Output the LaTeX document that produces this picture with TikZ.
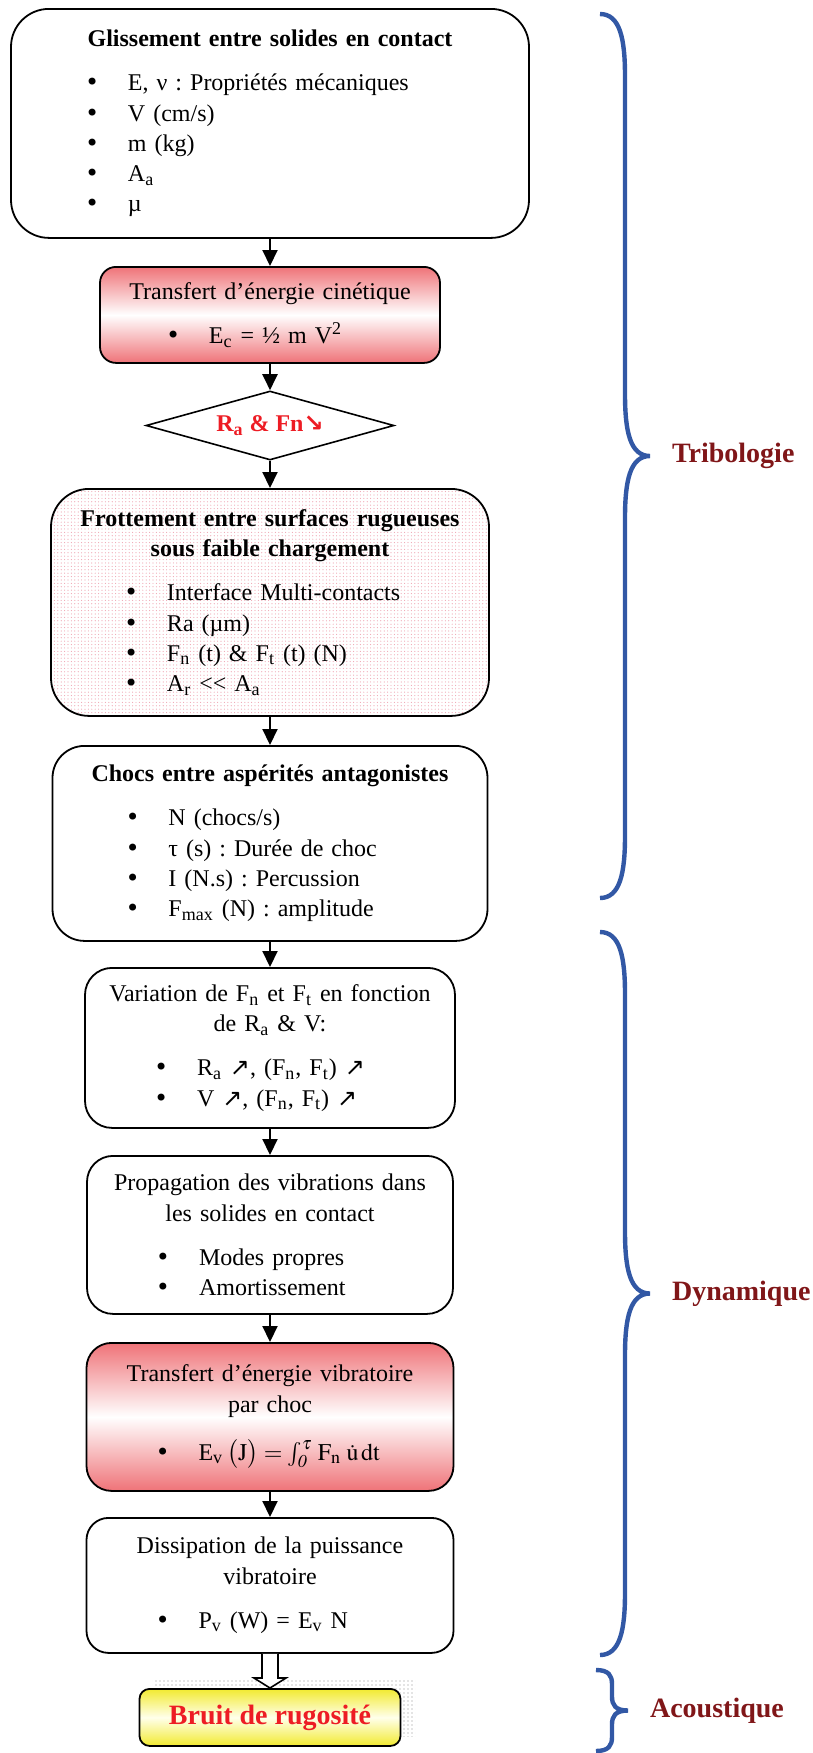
\documentclass[tikz,border=0pt]{standalone}
\usepackage{mathptmx}
\usepackage{fontspec}
\setmainfont{Liberation Serif}
\newfontfamily\arrowfont{DejaVu Sans}
\usetikzlibrary{shapes.geometric}
\usetikzlibrary{arrows.meta}
\usetikzlibrary{calc}
\usetikzlibrary{patterns.meta}
\usetikzlibrary{backgrounds}
\definecolor{braceblue}{RGB}{50,88,165}
\definecolor{labelred}{RGB}{128,22,24}
\definecolor{alertred}{RGB}{237,28,36}
\definecolor{shadered}{RGB}{239,115,120}
\definecolor{shadeyellow}{RGB}{242,234,48}
\definecolor{dotpink}{RGB}{238,165,178}
\newcommand{\ssub}[1]{\textsubscript{#1}}
\newcommand{\btitle}[2][7pt]{{\centering #2\par}\vspace{#1}}
\newcommand{\bitem}[2][36.5pt]{\hspace*{#1}\makebox[21.5pt][l]{\arrowfont •}#2\par}
% side brace: x, top, bottom, half width, curl, name, label
\newcommand{\dbrace}[7]{%
  \pgfmathsetmacro{\ymid}{(#2+#3)/2}
  \draw[braceblue, line width=2.2pt]
    (#1,#2) .. controls ({#1+0.8*#4},#2) and ({#1+#4},{#2+0.4*#5}) .. ({#1+#4},{#2+#5})
    -- ({#1+#4},{\ymid-#5})
    .. controls ({#1+#4},{\ymid-0.4*#5}) and ({#1+1.2*#4},\ymid) .. ({#1+2*#4},\ymid)
    .. controls ({#1+1.2*#4},\ymid) and ({#1+#4},{\ymid+0.4*#5}) .. ({#1+#4},{\ymid+#5})
    -- ({#1+#4},{#3-#5})
    .. controls ({#1+#4},{#3-0.4*#5}) and ({#1+0.8*#4},#3) .. (#1,#3);
  \node[zonelabel, anchor=west] (#6) at ({#1+2*#4+15},\ymid) {#7};
}

\begin{document}
\frenchspacing
\begin{tikzpicture}[x=0.5pt, y=-0.5pt,
  font=\fontsize{12}{15.1}\selectfont\frenchspacing,
  stepbox/.style={draw, line width=0.9pt, inner sep=0pt, anchor=north},
  flow/.style={-{Triangle[length=8pt, width=7.5pt]}, line width=1pt},
  redshade/.style={top color=shadered, bottom color=shadered, middle color=white},
  zonelabel/.style={font=\fontsize{14}{17}\selectfont\bfseries, text=labelred}]
  \useasboundingbox (0,0) rectangle (813,1753);

  \node[stepbox, rounded corners=19pt, text width=259pt, minimum height=114.5pt] (glis) at (270,8) {
    \btitle{\bfseries Glissement entre solides en contact}
    \bitem[37pt]{E, ν : Propriétés mécaniques}
    \bitem[37pt]{V (cm/s)}
    \bitem[37pt]{m (kg)}
    \bitem[37pt]{A\ssub{a}}
    \bitem[37pt]{µ}};
  \node[stepbox, redshade, rounded corners=8pt, text width=170pt, minimum height=48pt] (ecin) at (270,266) {
    \btitle{Transfert d’énergie cinétique}
    \bitem[33pt]{E\ssub{c} = ½ m V\textsuperscript{2}}};
  \node[diamond, draw, line width=0.8pt, aspect=3.6, inner sep=0pt, minimum width=124pt, minimum height=34.5pt,
    text=alertred, font=\fontsize{12}{14}\selectfont\bfseries] (test) at (270,425.5) {R\ssub{a} \& Fn{\arrowfont\bfseries ↘}};
  \node[stepbox, rounded corners=19pt, text width=219pt, minimum height=113.5pt,
    pattern={Dots[distance=1.7pt, radius=0.3pt]}, pattern color=dotpink] (frot) at (270,488) {
    \btitle{\bfseries Frottement entre surfaces rugueuses\\sous faible chargement}
    \bitem{Interface Multi-contacts}
    \bitem{Ra (µm)}
    \bitem{F\ssub{n} (t) \& F\ssub{t} (t) (N)}
    \bitem{A\ssub{r} {<}{<} A\ssub{a}}};
  \node[stepbox, rounded corners=16pt, text width=217.5pt, minimum height=97.5pt] (chocs) at (270,745) {
    \btitle{\bfseries Chocs entre aspérités antagonistes}
    \bitem{N (chocs/s)}
    \bitem{τ (s) : Durée de choc}
    \bitem{I (N.s) : Percussion}
    \bitem{F\ssub{max} (N) : amplitude}};
  \node[stepbox, rounded corners=13.5pt, text width=185pt, minimum height=80pt] (vari) at (270,967) {
    \btitle{Variation de F\ssub{n} et F\ssub{t} en fonction\\de R\ssub{a} \& V:}
    \bitem[34.5pt]{R\ssub{a} {\arrowfont ↗}, (F\ssub{n}, F\ssub{t}) {\arrowfont ↗}}
    \bitem[34.5pt]{V {\arrowfont ↗}, (F\ssub{n}, F\ssub{t}) {\arrowfont ↗}}};
  \node[stepbox, rounded corners=13pt, text width=183pt, minimum height=79pt] (prop) at (270,1155) {
    \btitle{Propagation des vibrations dans\\les solides en contact}
    \bitem[34.5pt]{Modes propres}
    \bitem[34.5pt]{Amortissement}};
  \node[stepbox, redshade, rounded corners=12.5pt, text width=183.5pt, minimum height=74pt] (evib) at (270,1342) {
    \btitle[9pt]{Transfert d’énergie vibratoire\\par choc}
    \bitem[34.5pt]{E\ssub{v}\,$\bigl(\mathrm{J}\bigr)=\int_{\mathit{0}}^{\tau}\,\mathrm{F}_{\mathrm{n}}\;\dot{\mathrm{u}}\,\mathrm{dt}$}};
  \node[stepbox, rounded corners=11pt, text width=183.5pt, minimum height=67.5pt] (diss) at (270,1517) {
    \btitle{Dissipation de la puissance\\vibratoire}
    \bitem[34.5pt]{P\ssub{v} (W) = E\ssub{v} N}};
  \node[stepbox, top color=shadeyellow, bottom color=shadeyellow, middle color=white!92!yellow,
    rounded corners=5pt, minimum width=130.5pt, minimum height=28.5pt,
    text=alertred, font=\fontsize{14}{17}\selectfont\bfseries] (bruit) at (270,1688) {Bruit de rugosité};
  \begin{scope}[on background layer]
    \fill[pattern={Dots[distance=2pt, radius=0.35pt]}, pattern color=black!45]
      ($(bruit.north west)+(14,-10)$) rectangle ($(bruit.south east)+(14,-10)$);
  \end{scope}

  \draw[flow] (glis.south) -- (ecin.north);
  \draw[flow] (ecin.south) -- (test.north);
  \draw[flow] (test.south) -- (frot.north);
  \draw[flow] (frot.south) -- (chocs.north);
  \draw[flow] (chocs.south) -- (vari.north);
  \draw[flow] (vari.south) -- (prop.north);
  \draw[flow] (prop.south) -- (evib.north);
  \draw[flow] (evib.south) -- (diss.north);
  \draw[line width=0.8pt, fill=white] ($(diss.south)+(-8,0)$) -- ($(bruit.north)+(-8,-10)$)
    -- ($(bruit.north)+(-16,-10)$) -- (bruit.north) -- ($(bruit.north)+(16,-10)$)
    -- ($(bruit.north)+(8,-10)$) -- ($(diss.south)+(8,0)$);

  \dbrace{600}{14}{898}{25}{62}{tribo}{Tribologie}
  \dbrace{600}{932}{1655}{25}{62}{dyna}{Dynamique}
  \dbrace{596}{1670}{1751}{16}{14}{acou}{Acoustique}
\end{tikzpicture}
\end{document}
